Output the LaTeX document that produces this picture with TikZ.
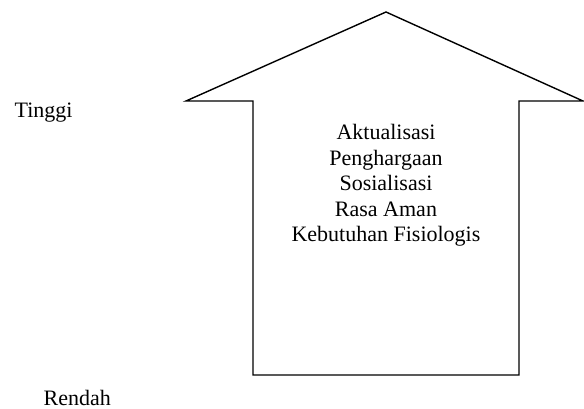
\documentclass[tikz,border=0pt]{standalone}
\usepackage{fontspec}
\setmainfont{Liberation Serif}
\usepackage{tikz}

\begin{document}
\begin{tikzpicture}[x=1pt, y=-1pt, line width=1.4pt]
        \useasboundingbox (0,0) rectangle (584,409);

        % the arrow
        \draw (386,12) -- (583,101) -- (519,101) -- (519,375) -- (253,375)
              -- (253,101) -- (186,101) -- cycle;

        \node[anchor=north, inner sep=0pt, align=center,
              font=\fontsize{22}{25.5}\selectfont] (needs) at (386,124)
              {Aktualisasi\\Penghargaan\\Sosialisasi\\Rasa Aman\\Kebutuhan Fisiologis};

        \node[anchor=base west, inner sep=0pt, font=\fontsize{22}{25.5}\selectfont] (high) at (14,118) {Tinggi};
        \node[anchor=base west, inner sep=0pt, font=\fontsize{22}{25.5}\selectfont] (low) at (43,405) {Rendah};
    \end{tikzpicture}
\end{document}
